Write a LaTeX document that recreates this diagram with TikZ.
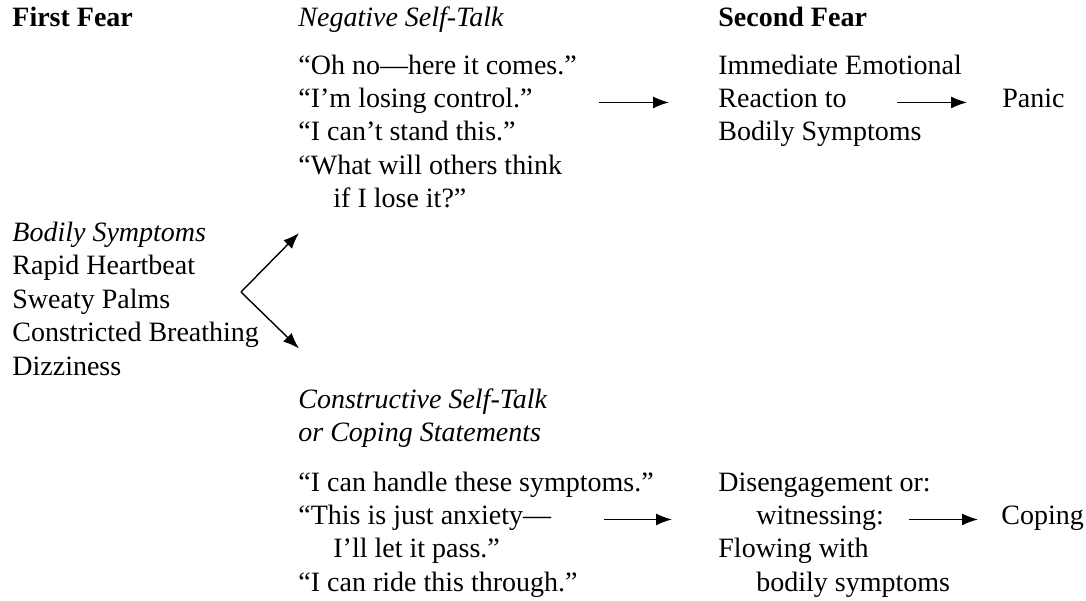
\documentclass[tikz,border=0pt]{standalone}
\usepackage{fontspec}
\setmainfont{Liberation Serif}
\usepackage{tikz}
\usetikzlibrary{
	positioning,
	arrows.meta
}
\tikzset{
	x=0.5pt,
	y=-0.5pt,
	txt/.style={
		anchor=base west,
		inner sep=0pt,
		text height=5pt,
		text depth=0pt,
		font=\fontsize{14pt}{16.75pt}\selectfont
	},
	head/.style={
		txt,
		font=\fontsize{14pt}{16.75pt}\selectfont\bfseries
	},
	ital/.style={
		txt,
		font=\fontsize{14pt}{16.75pt}\selectfont\itshape
	},
	every edge/.append style={
		-{Latex[length=8pt,width=6pt]},
		line width=0.7pt
	}
}

\begin{document}
\begin{tikzpicture}
	\useasboundingbox (0,0) rectangle (1086,600);
		\draw
			node[head] (first)  at (12,26.7)  {First Fear}
			node[ital] (negtop) at (298,26.7) {Negative Self-Talk}
			node[head] (second) at (718,26.7) {Second Fear}

			node[txt] (neg1) at (298,74)     {“Oh no—here it comes.”}
			node[txt] (neg2) at (298,107.45) {“I’m losing control.”}
			node[txt] (neg3) at (298,140.9)  {“I can’t stand this.”}
			node[txt] (neg4) at (298,174.35) {“What will others think}
			node[txt] (neg5) at (333,207.8)  {if I lose it?”}

			node[txt] (emot1) at (718,74)     {Immediate Emotional}
			node[txt] (emot2) at (718,107.45) {Reaction to}
			node[txt] (emot3) at (718,140.9)  {Bodily Symptoms}
			node[txt] (panic) at (1002,107.45) {Panic}

			node[ital] (body1) at (12,241.25) {Bodily Symptoms}
			node[txt]  (body2) at (12,274.7)  {Rapid Heartbeat}
			node[txt]  (body3) at (12,308.15) {Sweaty Palms}
			node[txt]  (body4) at (12,341.6)  {Constricted Breathing}
			node[txt]  (body5) at (12,375.05) {Dizziness}

			node[ital] (constop1) at (298,408.5)  {Constructive Self-Talk}
			node[ital] (constop2) at (298,441.95) {or Coping Statements}

			node[txt] (cope1) at (298,491)    {“I can handle these symptoms.”}
			node[txt] (cope2) at (298,524.45) {“This is just anxiety—}
			node[txt] (cope3) at (333,557.9)  {I’ll let it pass.”}
			node[txt] (cope4) at (298,591.35) {“I can ride this through.”}

			node[txt] (dis1) at (718,491)    {Disengagement or:}
			node[txt] (dis2) at (756,524.45) {witnessing:}
			node[txt] (dis3) at (718,557.9)  {Flowing with}
			node[txt] (dis4) at (756,591.35) {bodily symptoms}
			node[txt] (coping) at (1001,524.45) {Coping}

			coordinate (fork)  at (241,292)
			coordinate (upper) at (299,233)
			coordinate (lower) at (299,348.5)

			(neg2)  edge[shorten <=33pt, shorten >=24.5pt] (emot2)
			(emot2) edge[shorten <=24.9pt, shorten >=17.5pt] (panic)
			(fork)  edge (upper)
			(fork)  edge (lower)
			(cope2) edge[shorten <=26.1pt, shorten >=42pt] (dis2)
			(dis2)  edge[shorten <=12.2pt, shorten >=11.5pt] (coping)
		;
	\end{tikzpicture}
\end{document}
